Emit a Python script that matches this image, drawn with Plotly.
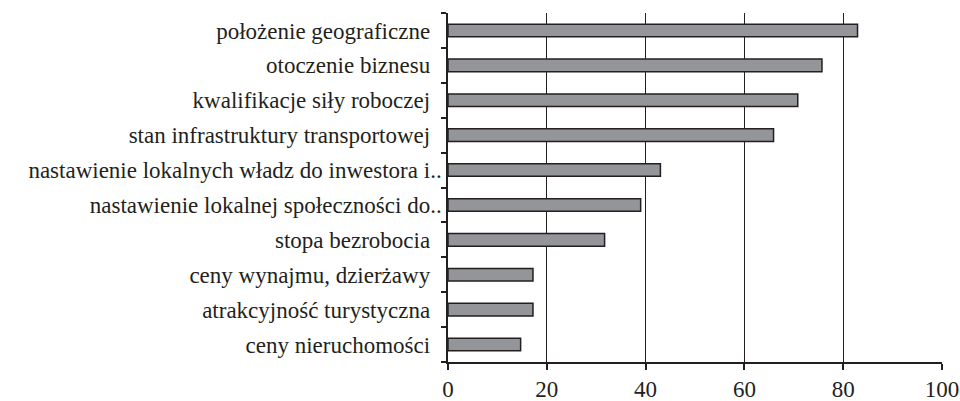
import plotly.graph_objects as go

categories = [
    "położenie geograficzne",
    "otoczenie biznesu",
    "kwalifikacje siły roboczej",
    "stan infrastruktury transportowej",
    "nastawienie lokalnych władz do inwestora i…",
    "nastawienie lokalnej społeczności do…",
    "stopa bezrobocia",
    "ceny wynajmu, dzierżawy",
    "atrakcyjność turystyczna",
    "ceny nieruchomości",
]
values = [82.9, 75.7, 70.8, 65.9, 43.0, 39.0, 31.7, 17.2, 17.2, 14.7]
x_ticks = [0, 20, 40, 60, 80, 100]

# displayed labels: truncated ones end in two visible dots, others padded
tick_text = [
    c.replace("…", "..") if c.endswith("…") else c + "\u2002" for c in categories
]

dark = "#231f20"
font = dict(family="Liberation Serif", size=23, color=dark)

fig = go.Figure(
    go.Bar(
        y=categories,
        x=values,
        orientation="h",
        width=0.36,
        marker=dict(color="#939598", line=dict(color=dark, width=1.5)),
    )
)

fig.update_layout(
    width=960,
    height=401,
    margin=dict(l=448, r=18, t=13, b=39, autoexpand=False),
    paper_bgcolor="white",
    plot_bgcolor="white",
    showlegend=False,
    font=font,
)

fig.update_xaxes(
    range=[0, 100],
    tickvals=x_ticks,
    ticktext=[str(v) for v in x_ticks],
    showgrid=True,
    gridcolor=dark,
    gridwidth=1,
    showline=True,
    linecolor=dark,
    linewidth=1.5,
    ticks="outside",
    ticklen=6,
    tickcolor=dark,
    tickwidth=1.5,
    zeroline=False,
    tickfont=font,
    ticklabelstandoff=0,
)

fig.update_yaxes(
    autorange="reversed",
    categoryorder="array",
    categoryarray=categories,
    tickmode="array",
    tickvals=categories,
    ticktext=tick_text,
    showline=True,
    linecolor=dark,
    linewidth=1.5,
    ticks="outside",
    tickson="boundaries",
    ticklen=5,
    tickcolor=dark,
    tickwidth=1.5,
    showgrid=False,
    tickfont=font,
    ticklabelstandoff=0,
)

fig.write_html(
    "out.html",
    config={"displayModeBar": False},
    post_script="document.body.style.margin='0';"
    "document.documentElement.style.overflow='hidden';",
)
